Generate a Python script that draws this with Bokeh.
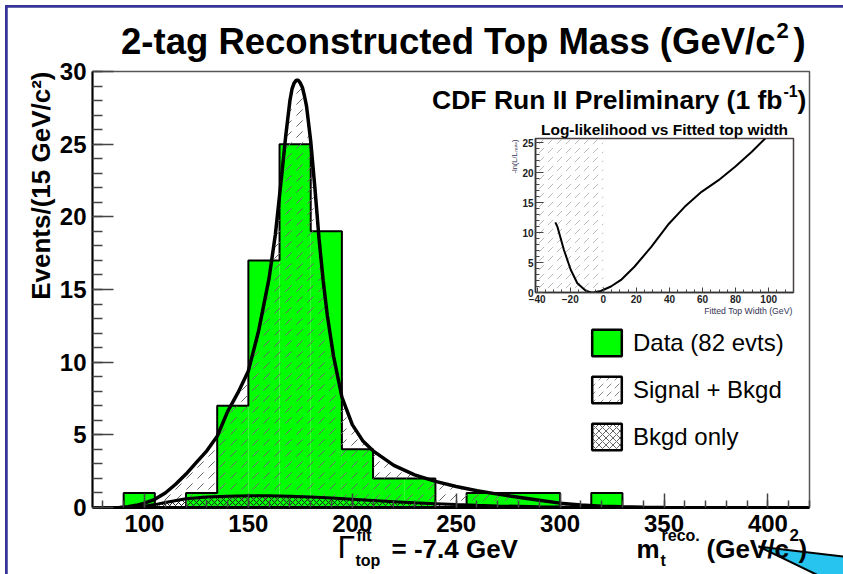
import math
from bokeh.plotting import figure
from bokeh.models import (Range1d, Label, Legend, LegendItem, ColumnDataSource,
                          FixedTicker, Div)
from bokeh.embed import file_html
from bokeh.resources import INLINE

# ---------------- data ----------------
bin_low = [90, 105, 120, 135, 150, 165, 180, 195, 210, 225, 240, 255, 270, 285, 300, 315]
bin_width = 15
data_counts = [1, 0, 1, 7, 17, 25, 19, 4, 2, 2, 0, 1, 1, 1, 0, 1]

sb_mass = [88, 92, 96, 100, 105, 110, 115, 120, 125, 130, 135, 140, 145, 150, 155, 160, 163,
           166, 168, 170, 171, 172, 173, 174, 175, 176, 177, 178, 180, 182, 184, 186, 188, 191,
           195, 200, 205, 210, 220, 230, 240, 250, 260, 270, 280, 290, 300, 310, 320, 330, 340,
           350]
sb_value = [0.0, 0.05, 0.15, 0.3, 0.56, 1.0, 1.6, 2.3, 3.1, 3.9, 4.9, 6.6, 7.9, 9.4, 12.2,
            15.8, 18.8, 22.8, 25.6, 28.0, 28.8, 29.2, 29.4, 29.4, 29.2, 28.9, 28.3, 27.6, 25.2,
            22.0, 18.5, 15.6, 13.2, 10.4, 7.6, 5.7, 4.6, 3.9, 2.9, 2.25, 1.8, 1.45, 1.15, 0.92,
            0.7, 0.5, 0.3, 0.17, 0.09, 0.05, 0.02, 0.0]

bkg_mass = [95, 100, 105, 110, 120, 130, 140, 150, 160, 170, 180, 190, 200, 210, 220, 230, 240,
            250, 260, 270, 280, 290, 300, 310, 320]
bkg_value = [0.0, 0.08, 0.2, 0.35, 0.6, 0.72, 0.78, 0.8, 0.8, 0.78, 0.72, 0.65, 0.56, 0.48, 0.4,
             0.32, 0.26, 0.2, 0.15, 0.11, 0.08, 0.05, 0.03, 0.015, 0.0]

x_ticks = [100, 150, 200, 250, 300, 350, 400]
y_ticks = [0, 5, 10, 15, 20, 25, 30]

# inset: -ln(L/Lmax) vs fitted top width
ll_width = [-29, -27.8, -23.8, -19.7, -15.7, -10.6, -7.4, -5.5, -1.5, 4.6, 10.7, 18.8, 29, 39.1,
            49.2, 59.4, 69.5, 79.7, 89.8, 97.9]
ll_value = [11.7, 11.0, 7.1, 3.8, 1.55, 0.3, 0.0, 0.05, 0.25, 1.0, 2.1, 4.3, 7.6, 11.3, 14.3,
            16.8, 18.7, 21.0, 23.5, 25.7]
inset_x_ticks = [-40, -20, 0, 20, 40, 60, 80, 100]
inset_y_ticks = [0, 5, 10, 15, 20, 25]
excluded_width = [-50, 0]   # unphysical region Gamma < 0

legend_labels = ["Data (82 evts)", "Signal + Bkgd", "Bkgd only"]

FONT = "Liberation Sans"
GREEN = "#00ff00"
BLUE = "#343597"
PAGE_W, PAGE_H = 843, 574

# ---------------- main figure ----------------
X0, X1 = 75, 420
Y0, Y1 = 0, 30
OX, OY = 7, 7           # page offset of the main figure (blue strips left/top)
MW, MH = PAGE_W - OX, PAGE_H - OY
FL, FT, FW, FH = 85, 64, 717, 436

p = figure(width=MW, height=MH, x_range=Range1d(X0, X1), y_range=Range1d(Y0, Y1),
           output_backend="svg", toolbar_location=None,
           min_border_left=FL, min_border_top=FT, min_border_right=MW - FL - FW,
           min_border_bottom=MH - FT - FH,
           styles={"position": "absolute", "left": f"{OX}px", "top": f"{OY}px"})
p.background_fill_color = "white"
p.border_fill_color = "white"
p.outline_line_color = "#555555"
p.outline_line_width = 1.5
p.xgrid.visible = False
p.ygrid.visible = False

# histogram fill
bin_high = [b + bin_width for b in bin_low]
hist_src = ColumnDataSource(dict(left=bin_low, right=bin_high, top=data_counts,
                                 bottom=[0] * len(bin_low)))
p.quad(left="left", right="right", top="top", bottom="bottom", source=hist_src,
       fill_color=GREEN, line_alpha=0)
# histogram outline (step)
step_x, step_y = [], []
prev = 0
for lo, hi, c in zip(bin_low, bin_high, data_counts):
    step_x += [lo, lo, hi]
    step_y += [prev, c, c]
    prev = c
step_x.append(bin_high[-1])
step_y.append(0)
p.line(step_x, step_y, line_color="black", line_width=2)

# signal + background hatched area
p.varea(x=sb_mass, y1=[0] * len(sb_mass), y2=sb_value, fill_alpha=0,
        hatch_pattern="right_diagonal_dash", hatch_color="#666666", hatch_scale=11,
        hatch_weight=1)
# background-only cross hatched area
p.varea(x=bkg_mass, y1=[0] * len(bkg_mass), y2=bkg_value, fill_alpha=0,
        hatch_pattern="diagonal_cross", hatch_color="#222222", hatch_scale=6,
        hatch_weight=1)
p.line(sb_mass, sb_value, line_color="black", line_width=3.5)
p.line(bkg_mass, bkg_value, line_color="black", line_width=3)

# axes
p.xaxis.ticker = FixedTicker(ticks=x_ticks, minor_ticks=list(range(80, 421, 10)))
p.yaxis.ticker = FixedTicker(ticks=y_ticks, minor_ticks=list(range(0, 31)))
for ax in (p.xaxis, p.yaxis):
    ax.major_tick_out = 0
    ax.minor_tick_out = 0
    ax.major_tick_line_color = "#444444"
    ax.minor_tick_line_color = "#444444"
    ax.major_tick_line_width = 1.5
    ax.minor_tick_line_width = 1.5
    ax.axis_line_color = "black"
    ax.major_label_text_font = FONT
    ax.major_label_text_font_style = "bold"
    ax.major_label_text_font_size = "24px"
    ax.major_label_text_color = "black"
p.xaxis.major_tick_in = 14
p.xaxis.minor_tick_in = 7
p.yaxis.major_tick_in = 21
p.yaxis.minor_tick_in = 10
p.xaxis.axis_line_width = 3
p.yaxis.axis_line_width = 2
p.xaxis.major_label_standoff = 7
p.yaxis.major_label_standoff = 6

# legend (placeholder glyphs with NaN coordinates carry the legend look)
nan = float("nan")
ph = dict(left=[nan], right=[nan], top=[nan], bottom=[nan])
r_data = p.quad(left="left", right="right", top="top", bottom="bottom",
                source=ColumnDataSource(ph), fill_color=GREEN, line_color="black",
                line_width=2.5)
r_sb = p.quad(left="left", right="right", top="top", bottom="bottom",
              source=ColumnDataSource(ph), fill_color="white", line_color="black",
              line_width=2.5, hatch_pattern="right_diagonal_dash", hatch_color="#888888",
              hatch_scale=8)
r_bkg = p.quad(left="left", right="right", top="top", bottom="bottom",
               source=ColumnDataSource(ph), fill_color="white", line_color="black",
               line_width=2.5, hatch_pattern="diagonal_cross", hatch_color="#666666",
               hatch_scale=7)
legend = Legend(items=[LegendItem(label=legend_labels[0], renderers=[r_data]),
                       LegendItem(label=legend_labels[1], renderers=[r_sb]),
                       LegendItem(label=legend_labels[2], renderers=[r_bkg])],
                location=(588 - OX - FL, (OY + FT + FH) - 453), padding=0, margin=0,
                spacing=14, glyph_width=37, glyph_height=33, label_height=33,
                label_standoff=8, label_text_font=FONT, label_text_font_size="24px",
                label_text_color="black", background_fill_alpha=0, border_line_alpha=0)
p.add_layout(legend)

# ---------------- inset ----------------
IX0, IX1 = -41, 115
IY0, IY1 = 0, 25.7
IPL, IPT = 500, 118
IW, IH = 300, 199
IFL, IFT, IFW, IFH = 35, 20, 258, 154
inset = figure(width=IW, height=IH, x_range=Range1d(IX0, IX1), y_range=Range1d(IY0, IY1),
               output_backend="svg", toolbar_location=None,
               min_border_left=IFL, min_border_top=IFT, min_border_right=IW - IFL - IFW,
               min_border_bottom=IH - IFT - IFH,
               styles={"position": "absolute", "left": f"{IPL}px", "top": f"{IPT}px"})
inset.background_fill_color = "white"
inset.border_fill_alpha = 0
inset.outline_line_color = "#4a4040"
inset.outline_line_width = 1.5
inset.xgrid.visible = False
inset.ygrid.visible = False
inset.quad(left=[excluded_width[0]], right=[excluded_width[1]], bottom=[IY0 - 5],
           top=[IY1 + 5], fill_alpha=0, line_alpha=0, hatch_pattern="right_diagonal_dash",
           hatch_color="#bbbbbb", hatch_scale=9, hatch_weight=1)
inset.line(ll_width, ll_value, line_color="black", line_width=2)
inset.xaxis.ticker = FixedTicker(ticks=inset_x_ticks, minor_ticks=list(range(-40, 116, 5)))
inset.yaxis.ticker = FixedTicker(ticks=inset_y_ticks, minor_ticks=list(range(0, 26)))
for ax in (inset.xaxis, inset.yaxis):
    ax.major_tick_out = 0
    ax.minor_tick_out = 0
    ax.major_tick_line_color = "#444444"
    ax.minor_tick_line_color = "#444444"
    ax.axis_line_color = "#333333"
    ax.axis_line_width = 1.5
    ax.major_label_text_font = FONT
    ax.major_label_text_font_style = "bold"
    ax.major_label_text_font_size = "10px"
    ax.major_label_text_color = "#222222"
    ax.major_label_standoff = 2
inset.xaxis.major_tick_in = 5
inset.xaxis.minor_tick_in = 3
inset.yaxis.major_tick_in = 8
inset.yaxis.minor_tick_in = 4

# ---------------- text overlay (page pixel coordinates) ----------------
ov = figure(width=PAGE_W, height=PAGE_H, x_range=Range1d(0, PAGE_W),
            y_range=Range1d(PAGE_H, 0), output_backend="svg", toolbar_location=None,
            x_axis_type=None, y_axis_type=None, min_border=0,
            styles={"position": "absolute", "left": "0px", "top": "0px"})
ov.background_fill_alpha = 0
ov.border_fill_alpha = 0
ov.outline_line_color = None
ov.xgrid.visible = False
ov.ygrid.visible = False


def lab(x, y, text, size, style="bold", align="left", angle=0.0, color="black"):
    # the rendered alphabetic baseline sits ~0.3 em low; compensate
    if angle == 0.0:
        y = y - 0.3 * size
    ov.add_layout(Label(x=x, y=y, text=text, text_font=FONT, text_font_size=f"{size}px",
                        text_font_style=style, text_align=align, text_baseline="alphabetic",
                        angle=angle, text_color=color))


lab(775, 52, "2-tag Reconstructed Top Mass (GeV/c", 36.5, align="right")
lab(776, 37, "2", 22)
lab(793, 52, ")", 36.5)
lab(40, 71, "Events/(15 GeV/c²)", 26, align="right", angle=math.pi / 2)
lab(782, 107, "CDF Run II Preliminary (1 fb", 26.5, align="right")
lab(783, 95, "-1", 16)
lab(797, 107, ")", 26.5)
lab(337, 556, "Γ", 32, style="normal")
lab(356, 540, "fit", 16)
lab(355, 565, "top", 16)
lab(391, 556, "= -7.4 GeV", 26)
lab(636, 556, "m", 26)
lab(661, 540, "reco.", 16)
lab(660, 565, "t", 16)
lab(706, 556, "(GeV/c", 26)
lab(789, 540, "2", 17)
lab(798, 556, ")", 26)
# inset texts
lab(664, 134, "Log-likelihood vs Fitted top width", 15.5, align="center")
lab(792, 313, "Fitted Top Width (GeV)", 8.7, style="normal", align="right",
    color="#333355")
lab(514, 139, "-ln(L/Lₘₐₓ)", 7.5, style="normal", align="right", angle=math.pi / 2,
    color="#333355")

# pointer arrow of the slide (page decoration)
ov.patch([758, 860, 860, 849], [546, 558, 590, 590], fill_color="#27c4f0",
         line_color="black", line_width=2)

bg = Div(width=PAGE_W, height=PAGE_H,
         styles={"position": "absolute", "left": "0px", "top": "0px",
                 "background-color": BLUE})

open("out.html", "w").write(file_html([bg, p, inset, ov], INLINE))
